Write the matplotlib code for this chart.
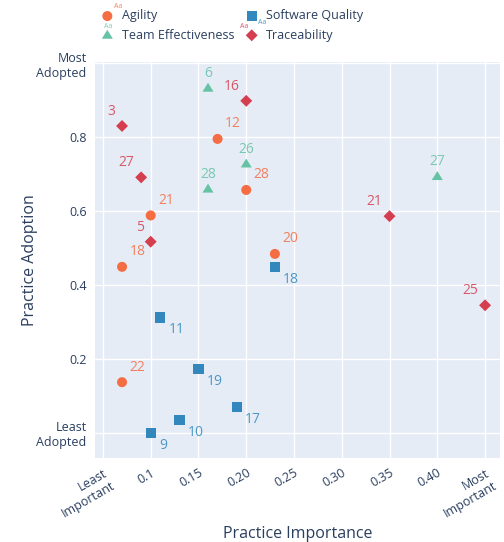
import numpy as np
import matplotlib.pyplot as plt
from matplotlib.path import Path

# practice importance (x) / adoption (y) per category, with practice ids
agility_id = ['12', '28', '21', '18', '20', '22']
agility_x = [0.17, 0.20, 0.10, 0.07, 0.23, 0.07]
agility_y = [0.795, 0.657, 0.588, 0.449, 0.484, 0.137]

quality_id = ['18', '11', '19', '17', '10', '9']
quality_x = [0.23, 0.11, 0.15, 0.19, 0.13, 0.10]
quality_y = [0.449, 0.312, 0.172, 0.069, 0.035, 0.0]

team_id = ['6', '26', '28', '27']
team_x = [0.16, 0.20, 0.16, 0.40]
team_y = [0.932, 0.727, 0.659, 0.693]

trace_id = ['16', '3', '27', '5', '21', '25']
trace_x = [0.20, 0.07, 0.09, 0.10, 0.35, 0.45]
trace_y = [0.898, 0.83, 0.691, 0.517, 0.586, 0.345]

xticks = [0.05, 0.10, 0.15, 0.20, 0.25, 0.30, 0.35, 0.40, 0.45]
xlabels = ['Least\nImportant', '0.1', '0.15', '0.20', '0.25', '0.30', '0.35', '0.40', 'Most\nImportant']
yticks = [0.0, 0.2, 0.4, 0.6, 0.8, 1.0]
ylabels = ['Least\nAdopted', '0.2', '0.4', '0.6', '0.8', 'Most\nAdopted']

plt.rcParams['font.family'] = ['Open Sans', 'DejaVu Sans']
txt = '#2a3f5f'

# flatter triangle, like plotly's triangle-up
tri = Path([(-1, -0.62), (1, -0.62), (0, 1.0), (-1, -0.62)], closed=True)

fig = plt.figure(figsize=(5.04, 5.42), dpi=100)
ax = fig.add_axes([0.1885, 0.155, 0.8035, 0.7306])
ax.set_facecolor('#E5ECF6')
for s in ax.spines.values():
    s.set_visible(False)
ax.grid(True, color='white', linewidth=1)
ax.set_axisbelow(True)

# name, x, y, ids, marker, size, colour, label offset (pt), ha
series = [
    ('Agility', agility_x, agility_y, agility_id, 'o', 52, '#F46D43', (5.5, 10.8), 'left'),
    ('Team Effectiveness', team_x, team_y, team_id, tri, 63, '#66C2A5', (0, 10.6), 'center'),
    ('Software Quality', quality_x, quality_y, quality_id, 's', 55, '#3288BD', (6, -9), 'left'),
    ('Traceability', trace_x, trace_y, trace_id, 'D', 37, '#D53E4F', (-5, 10.4), 'right'),
]
handles = []
for name, xs, ys, ids, m, sz, c, off, ha in series:
    h = ax.scatter(xs, ys, marker=m, s=sz, color=c, edgecolors='none', label=name, zorder=3)
    handles.append(h)
    for x, y, t in zip(xs, ys, ids):
        ax.annotate(t, (x, y), xytext=off, textcoords='offset points', ha=ha, va='center',
                    color=c, alpha=0.85, fontsize=10)

ax.set_xlim(0.0417, 0.4656)
ax.set_ylim(-0.068, 1.003)
ax.set_xticks(xticks)
ax.set_xticklabels(xlabels, rotation=30, ha='right', rotation_mode='anchor')
ax.set_yticks(yticks)
ax.set_yticklabels(ylabels, ha='right', multialignment='right')
ax.tick_params(colors=txt, labelsize=9, length=0, pad=6)
ax.set_xlabel('Practice Importance', color=txt, fontsize=11.5)
ax.set_ylabel('Practice Adoption', color=txt, fontsize=11.5)
ax.xaxis.set_label_coords(0.5, -0.172)
ax.yaxis.set_label_coords(-0.14, 0.5)

fig.legend(handles, [h.get_label() for h in handles], ncol=2, loc='upper left',
           bbox_to_anchor=(0.19, 0.992), frameon=False, fontsize=9,
           labelcolor=txt, handlelength=1.05, handletextpad=0.65, columnspacing=0.85,
           labelspacing=0.5, borderaxespad=0)

# small "Aa" text markers in the legend, as plotly draws them
aa = [(118, 7, '#F46D43'), (262, 23, '#3288BD'), (108, 26, '#66C2A5'), (244, 26, '#D53E4F')]
for px, py, c in aa:
    fig.text(px / 504, 1 - py / 542, 'Aa', color=c, alpha=0.85, fontsize=5,
             ha='center', va='center')

fig.savefig('out.png', dpi=100)
